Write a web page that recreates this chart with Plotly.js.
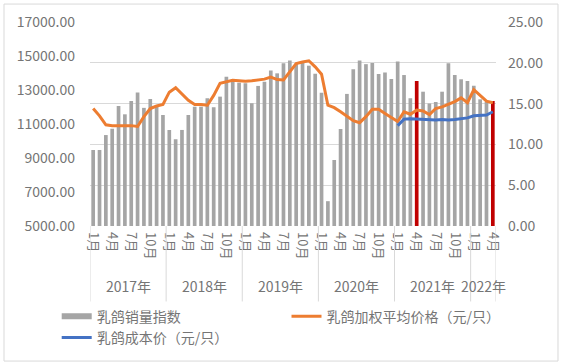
<!DOCTYPE html>
<html>
<head>
<meta charset="utf-8">
<script src="https://cdn.plot.ly/plotly-3.0.1.min.js"></script>
<style>html,body{margin:0;padding:0;background:#fff;}#chart{width:566px;height:364px;}</style>
</head>
<body>
<div id="chart"></div>
<script>
// ---- data ----
const years = ['2017年', '2018年', '2019年', '2020年', '2021年', '2022年'];
const monthsPerYear = [12, 12, 12, 12, 12, 4];
const monthTickLabels = ['1月', '4月', '7月', '10月'];

const sales2017 = [9470, 9470, 10350, 10720, 12060, 11570, 12350, 12860, 11950, 12470, 12020, 11530];
const sales2018 = [10650, 10100, 10650, 11530, 12020, 12020, 12510, 11980, 12610, 13780, 13490, 13430];
const sales2019 = [13390, 12220, 13240, 13490, 14140, 13980, 14570, 14730, 14550, 14670, 14430, 13960];
const sales2020 = [12840, 6460, 8880, 10700, 12770, 14220, 14730, 14520, 14590, 13940, 14030, 13640];
const sales2021 = [14670, 13880, 12510, 13530, 12900, 12200, 12300, 12900, 14570, 13880, 13630, 13530];
const sales2022 = [13250, 12450, 12300, 12350];

const price2017 = [14.4, 13.5, 12.4, 12.3, 12.3, 12.3, 12.3, 12.2, 13.4, 14.4, 14.7, 14.9];
const price2018 = [16.4, 16.95, 16.2, 15.4, 14.9, 14.9, 14.8, 16.0, 17.5, 17.7, 17.85, 17.8];
const price2019 = [17.75, 17.8, 17.9, 18.0, 18.25, 17.95, 17.9, 18.9, 19.9, 20.1, 20.25, 19.5];
const price2020 = [18.6, 14.8, 14.5, 14.0, 13.4, 12.9, 12.66, 13.4, 14.3, 14.3, 13.8, 13.3];
const price2021 = [12.8, 14.0, 13.7, 14.2, 14.1, 13.65, 14.4, 14.6, 14.9, 15.25, 15.7, 15.1];
const price2022 = [16.7, 15.95, 15.3, 15.1];

// cost series starts in Jan 2021
const cost2021 = [12.3, 13.1, 13.15, 13.1, 13.1, 13.05, 13.0, 13.05, 13.0, 13.05, 13.15, 13.25];
const cost2022 = [13.5, 13.55, 13.6, 14.0];

// highlighted (red) bars: [year label, month number]
const highlights = [['2021年', 4], ['2022年', 4]];

const seriesNames = ['乳鸽销量指数', '乳鸽加权平均价格（元/只）', '乳鸽成本价（元/只）'];

// ---- build ----
const sales = [].concat(sales2017, sales2018, sales2019, sales2020, sales2021, sales2022);
const price = [].concat(price2017, price2018, price2019, price2020, price2021, price2022);
const costVals = [].concat(cost2021, cost2022);

const xIdx = [], monthOf = [], yearOf = [];
years.forEach((y, yi) => {
  for (let m = 1; m <= monthsPerYear[yi]; m++) { xIdx.push(xIdx.length); monthOf.push(m); yearOf.push(y); }
});
const costStart = yearOf.indexOf('2021年');
const costX = costVals.map((_, i) => costStart + i);

const barColors = xIdx.map(i => highlights.some(h => h[0] === yearOf[i] && h[1] === monthOf[i]) ? '#C00000' : '#A5A5A5');

const tickvals = [], ticktext = [];
xIdx.forEach(i => { const lbl = monthOf[i] + '月'; if (monthTickLabels.includes(lbl)) { tickvals.push(i); ticktext.push(lbl); } });

const txtColor = '#757575';
const font = 'Noto Sans CJK SC, Noto Sans, sans-serif';

const traces = [
  {type: 'bar', x: xIdx, y: sales, marker: {color: barColors}, name: seriesNames[0], showlegend: false, yaxis: 'y', hoverinfo: 'skip'},
  {type: 'scatter', mode: 'lines', x: [null], y: [null], name: seriesNames[0], line: {color: '#A5A5A5', width: 6}, yaxis: 'y', legend: 'legend'},
  {type: 'scatter', mode: 'lines', x: xIdx, y: price, name: seriesNames[1], line: {color: '#ED7D31', width: 3}, yaxis: 'y2', legend: 'legend2'},
  {type: 'scatter', mode: 'lines', x: costX, y: costVals, name: seriesNames[2], line: {color: '#4472C4', width: 3}, yaxis: 'y2', legend: 'legend'}
];

// year group labels & separators
const annotations = [], shapes = [];
let start = 0;
years.forEach((y, yi) => {
  const n = monthsPerYear[yi];
  annotations.push({x: start + (n - 1) / 2, y: -0.293, xref: 'x', yref: 'paper', text: y, showarrow: false,
    xanchor: 'center', yanchor: 'middle', font: {family: font, size: 14, color: txtColor}});
  shapes.push({type: 'line', xref: 'x', yref: 'paper', x0: start - 0.5, x1: start - 0.5, y0: 0, y1: -0.37, line: {color: '#d9d9d9', width: 1}});
  start += n;
});
shapes.push({type: 'line', xref: 'x', yref: 'paper', x0: start - 0.5, x1: start - 0.5, y0: 0, y1: -0.37, line: {color: '#d9d9d9', width: 1}});
// outer frame
shapes.push({type: 'rect', xref: 'paper', yref: 'paper', x0: -0.2118, x1: 1.1527, y0: -0.662, y1: 1.088, line: {color: '#d9d9d9', width: 1}});

const legendFont = {family: font, size: 14, color: txtColor};
const layout = {
  width: 566, height: 364,
  margin: {l: 90, r: 70, t: 22, b: 138, autoexpand: false},
  paper_bgcolor: '#fff', plot_bgcolor: '#fff',
  font: {family: font, size: 14, color: txtColor},
  bargap: 0.42,
  showlegend: true,
  legend: {orientation: 'v', x: -0.082, xanchor: 'left', y: -0.366, yanchor: 'top', font: legendFont, traceorder: 'normal', tracegroupgap: 0, bgcolor: 'rgba(0,0,0,0)'},
  legend2: {orientation: 'v', x: 0.484, xanchor: 'left', y: -0.366, yanchor: 'top', font: legendFont, bgcolor: 'rgba(0,0,0,0)'},
  xaxis: {range: [-0.5, xIdx.length - 0.5], tickmode: 'array', tickvals: tickvals, ticktext: ticktext, tickangle: 90,
    showgrid: false, zeroline: false, showline: false, ticks: '', ticklabelstandoff: 5, tickfont: {family: font, size: 13, color: txtColor}, fixedrange: true},
  yaxis: {range: [5000, 17000], dtick: 2000, tick0: 5000, tickformat: '.2f', showgrid: false, zeroline: false, showline: false,
    ticks: '', ticklabelstandoff: 14, tickfont: {family: font, size: 14, color: txtColor}},
  yaxis2: {range: [0, 25], dtick: 5, tick0: 0, tickformat: '.2f', overlaying: 'y', side: 'right', showgrid: true, gridcolor: '#d9d9d9',
    gridwidth: 1, zeroline: false, showline: false, ticks: '', ticklabelstandoff: 11, tickfont: {family: font, size: 14, color: txtColor}},
  annotations: annotations,
  shapes: shapes
};

Plotly.newPlot('chart', traces, layout, {displayModeBar: false, staticPlot: true});
</script>
</body>
</html>
